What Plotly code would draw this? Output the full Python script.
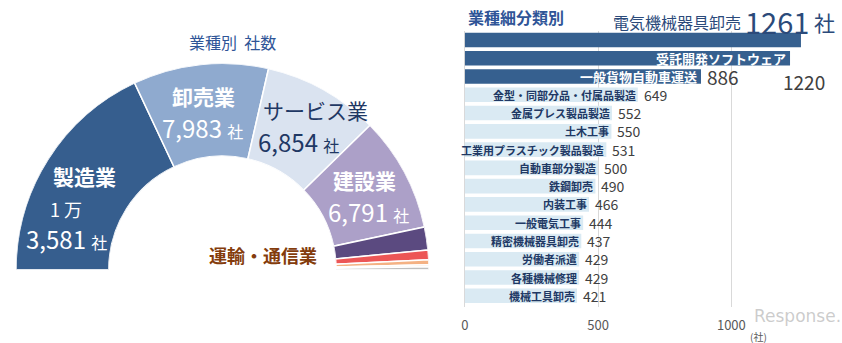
import plotly.graph_objects as go

# ---------------- data ----------------
sectors = ["製造業", "卸売業", "サービス業", "建設業", "運輸・通信業", "その他A", "その他B", "その他C", "その他D"]
sector_counts = [13581, 7983, 6854, 6791, 1360, 565, 290, 125, 170]
sector_colors = ["#365E8E", "#8FAACF", "#DAE3F0", "#ACA0C8", "#5B4A80", "#EC5656", "#F4B183", "#F8D9C2", "#BFBFBF"]

categories = ["電気機械器具卸売", "受託開発ソフトウェア", "一般貨物自動車運送", "金型・同部分品・付属品製造",
              "金属プレス製品製造", "土木工事", "工業用プラスチック製品製造", "自動車部分製造", "鉄鋼卸売",
              "内装工事", "一般電気工事", "精密機械器具卸売", "労働者派遣", "各種機械修理", "機械工具卸売"]
counts = [1261, 1220, 886, 649, 552, 550, 531, 500, 490, 466, 444, 437, 429, 429, 421]
x_ticks = [0, 500, 1000]
x_tick_labels = ["0", "500", "1000"]

FONT = "Noto Sans CJK JP"
W, H = 842, 343


def px(x):
    return x / W


def py(y):
    return 1 - y / H


# ---------------- half donut (barpolar) ----------------
total = sum(sector_counts)
thetas, widths = [], []
start = 180.0
for v in sector_counts:
    span = v / total * 180.0
    thetas.append(start - span / 2)
    widths.append(span)
    start -= span

fig = go.Figure()
fig.add_trace(go.Barpolar(
    r=[1] * len(sectors), theta=thetas, width=widths,
    marker=dict(color=sector_colors, line=dict(color="white", width=1.5)),
    text=sectors, customdata=sector_counts,
    hovertemplate="%{text}: %{customdata}社<extra></extra>",
    showlegend=False, subplot="polar",
))

# ---------------- bars ----------------
bar_colors = ["#36608F"] * 3 + ["#DAEAF3"] * (len(counts) - 3)
fig.add_trace(go.Bar(
    x=counts, y=categories, orientation="h",
    marker=dict(color=bar_colors, line=dict(width=0)),
    width=0.8, showlegend=False,
    hovertemplate="%{y}: %{x}社<extra></extra>",
    xaxis="x", yaxis="y",
))

fig.update_layout(
    width=W, height=H,
    margin=dict(l=0, r=0, t=0, b=0),
    paper_bgcolor="white", plot_bgcolor="white",
    font=dict(family=FONT, color="#404040"),
    polar=dict(
        domain=dict(x=[px(12), px(427)], y=[py(270), py(63)]),
        sector=[0, 180], hole=0.55, bgcolor="white",
        radialaxis=dict(range=[0, 1], visible=False, showgrid=False, showline=False, showticklabels=False, ticks=""),
        angularaxis=dict(visible=False, showgrid=False, showline=False, showticklabels=False, ticks="",
                         direction="counterclockwise", rotation=0),
    ),
    xaxis=dict(
        domain=[px(463), px(838)], range=[0, 1400],
        tickvals=x_ticks, ticktext=x_tick_labels,
        showgrid=True, gridcolor="#D9D9D9", gridwidth=1,
        zeroline=True, zerolinecolor="#D9D9D9", zerolinewidth=1,
        showline=False, ticks="", ticklabelstandoff=9,
        tickfont=dict(size=13, color="#595959", family=FONT),
        anchor="y",
    ),
    yaxis=dict(
        domain=[py(306.8), py(30.8)],
        autorange="reversed", showticklabels=False, showgrid=False, zeroline=False,
        ticks="", anchor="x", type="category",
    ),
    bargap=0.2,
)

ann = []


def pa(x, y, text, size, color, bold=False, xanchor="center", family=FONT):
    t = f"<b>{text}</b>" if bold else text
    ann.append(dict(x=px(x), y=py(y), xref="paper", yref="paper", text=t, showarrow=False,
                    xanchor=xanchor, yanchor="middle", borderpad=0,
                    font=dict(family=family, size=size, color=color)))


def num(v):
    return f"{v:,} <span style='font-size:16px'>社</span>"


# donut labels
pa(230, 42, "業種別  社数", 16, "#2F5597")
pa(81, 176, sectors[0], 21, "white", bold=True)
pa(62, 209, "1 万", 18, "white")
pa(63, 238, num(sector_counts[0] - 10000), 24, "white")
pa(200, 96, sectors[1], 21, "white", bold=True)
pa(199, 127, num(sector_counts[1]), 24, "white")
pa(313, 110, sectors[2], 21, "#1F3864")
pa(296, 141, num(sector_counts[2]), 24, "#1F3864")
pa(362, 180, sectors[3], 21, "white", bold=True)
pa(366, 211, num(sector_counts[3]), 24, "white")
pa(260, 255, sectors[4], 18, "#843C0C", bold=True)

# bar chart titles
pa(465, 17, "<b>業種細分類別</b>", 16, "#2F5597", xanchor="left")
pa(742, 22, categories[0], 16, "#2B4A7A", xanchor="right")
pa(744, 21, str(counts[0]), 29, "#2B4A7A", xanchor="left")
pa(836, 22, "社", 21, "#2B4A7A", xanchor="right")

# bar labels
for i, (c, v) in enumerate(zip(categories, counts)):
    if i == 0:
        continue
    if i < 3:
        ann.append(dict(x=v, y=c, xref="x", yref="y", text=f"<b>{c}</b>", showarrow=False,
                        xanchor="right", yanchor="middle", xshift=-3, borderpad=0,
                        font=dict(family=FONT, size=13, color="white")))
    else:
        ann.append(dict(x=v, y=c, xref="x", yref="y", text=f"<b>{c}</b>", showarrow=False,
                        xanchor="right", yanchor="middle", xshift=-1, borderpad=0,
                        font=dict(family=FONT, size=11, color="#203864")))
        ann.append(dict(x=v, y=c, xref="x", yref="y", text=str(v), showarrow=False,
                        xanchor="left", yanchor="middle", xshift=5, borderpad=0,
                        font=dict(family=FONT, size=14, color="#404040")))

# 886 and 1220 value labels
ann.append(dict(x=counts[2], y=categories[2], xref="x", yref="y", text=str(counts[2]), showarrow=False,
                xanchor="left", yanchor="middle", xshift=5, borderpad=0,
                font=dict(family=FONT, size=19, color="#404040")))
ann.append(dict(x=counts[1], y=categories[2], xref="x", yref="y", text=str(counts[1]), showarrow=False,
                xanchor="left", yanchor="middle", xshift=-8, yshift=-5, borderpad=0,
                font=dict(family=FONT, size=19, color="#404040")))

# axis unit and watermark
pa(758, 336, "(社)", 10, "#595959")
ann.append(dict(x=px(842), y=py(316), xref="paper", yref="paper", text="Response.", showarrow=False,
                xanchor="right", yanchor="middle", borderpad=0,
                font=dict(family="DejaVu Sans", size=17, color="rgba(170,170,170,0.6)")))

fig.update_layout(annotations=ann)
fig.write_html("out.html")
